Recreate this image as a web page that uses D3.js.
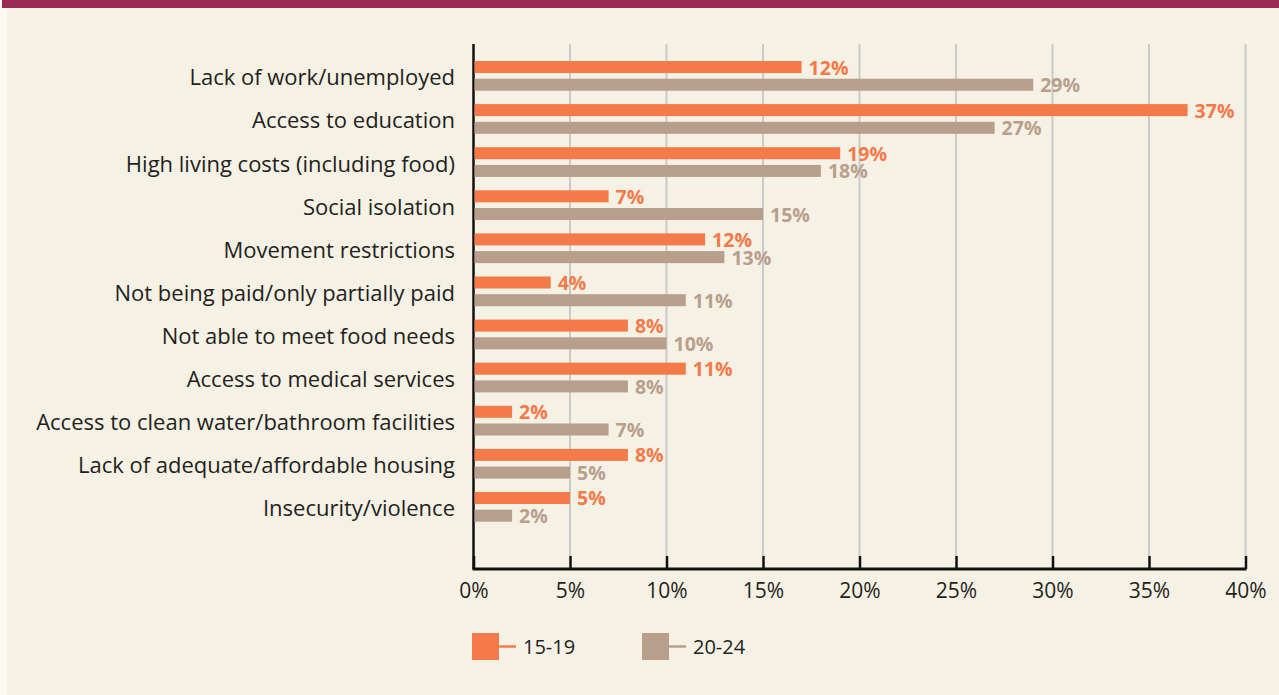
<!DOCTYPE html>
<html>
<head>
<meta charset="utf-8">
<script src="https://cdn.jsdelivr.net/npm/d3@7"></script>
<style>
  body { margin: 0; background: #fbf9f4; }
  svg { display: block; font-family: "Open Sans", "Noto Sans", sans-serif; }
</style>
</head>
<body>
<svg width="1279" height="695"></svg>
<script>
// categories, top to bottom
var categories = [
  "Lack of work/unemployed",
  "Access to education",
  "High living costs (including food)",
  "Social isolation",
  "Movement restrictions",
  "Not being paid/only partially paid",
  "Not able to meet food needs",
  "Access to medical services",
  "Access to clean water/bathroom facilities",
  "Lack of adequate/affordable housing",
  "Insecurity/violence"
];
var series = ["15-19", "20-24"];
// bar lengths as drawn in the source (first orange bar is drawn longer than its label)
var values1519 = [17, 37, 19, 7, 12, 4, 8, 11, 2, 8, 5];
var values2024 = [29, 27, 18, 15, 13, 11, 10, 8, 7, 5, 2];
// labels printed next to the bars
var labels1519 = ["12%", "37%", "19%", "7%", "12%", "4%", "8%", "11%", "2%", "8%", "5%"];
var labels2024 = ["29%", "27%", "18%", "15%", "13%", "11%", "10%", "8%", "7%", "5%", "2%"];
var xTicks = [0, 5, 10, 15, 20, 25, 30, 35, 40];

var colors = { "15-19": "#f47a4a", "20-24": "#b89f8c" };

var svg = d3.select("svg"),
    width = +svg.attr("width"),
    height = +svg.attr("height");

// panel + top band
svg.append("rect").attr("x", 7).attr("y", 0).attr("width", width - 7).attr("height", height).attr("fill", "#f6f1e5");
svg.append("rect").attr("x", 2).attr("y", 0).attr("width", width - 2).attr("height", 8).attr("fill", "#9b2a55");

var x = d3.scaleLinear().domain([0, 40]).range([473.5, 1245.5]);
var y = d3.scaleBand().domain(categories).range([61, 521.7]).paddingInner(0.31).paddingOuter(0);
var ySub = d3.scaleBand().domain(series).range([0, y.bandwidth()]).paddingInner(0.32);

var gridTop = 44, gridBottom = 556, axisY = 569;

// gridlines
svg.append("g")
  .selectAll("line")
  .data(xTicks.filter(function(d){ return d > 0 }))
  .enter()
  .append("line")
    .attr("x1", function(d){ return x(d) })
    .attr("x2", function(d){ return x(d) })
    .attr("y1", gridTop)
    .attr("y2", gridBottom)
    .attr("stroke", "#cacaca")
    .attr("stroke-width", 2)

// bottom axis with d3 ticks
var xAxis = svg.append("g")
  .attr("transform", "translate(0," + axisY + ")")
  .call(d3.axisBottom(x).tickValues(xTicks).tickSize(-13).tickPadding(0).tickFormat(function(d){ return d + "%" }));
xAxis.select(".domain").remove();
xAxis.selectAll(".tick line").attr("stroke", "#111").attr("stroke-width", 2.5);
xAxis.selectAll(".tick text")
  .attr("y", 29)
  .attr("dy", 0)
  .attr("fill", "#231f20")
  .style("font-size", "21px")
  .style("font-family", "'Open Sans', sans-serif");

svg.append("line")
  .attr("x1", x(0) - 1).attr("x2", x(40) + 1)
  .attr("y1", axisY).attr("y2", axisY)
  .attr("stroke", "#111").attr("stroke-width", 3);
svg.append("line")
  .attr("x1", x(0)).attr("x2", x(0))
  .attr("y1", gridTop).attr("y2", axisY)
  .attr("stroke", "#111").attr("stroke-width", 2.5);

// category labels
svg.append("g")
  .selectAll("text")
  .data(categories)
  .enter()
  .append("text")
    .attr("x", 455)
    .attr("y", function(d){ return y(d) + y.bandwidth() / 2 + 0.5 })
    .attr("text-anchor", "end")
    .attr("dominant-baseline", "central")
    .attr("fill", "#231f20")
    .style("font-size", "22px")
    .text(function(d){ return d })

// bars
var rows = categories.map(function(c, i){
  return [
    { cat: c, key: "15-19", v: values1519[i], label: labels1519[i] },
    { cat: c, key: "20-24", v: values2024[i], label: labels2024[i] }
  ];
});
var flat = [].concat.apply([], rows);

svg.append("g")
  .selectAll("rect")
  .data(flat)
  .enter()
  .append("rect")
    .attr("x", x(0) + 1)
    .attr("y", function(d){ return y(d.cat) + ySub(d.key) })
    .attr("width", function(d){ return x(d.v) - x(0) - 1 })
    .attr("height", ySub.bandwidth())
    .attr("fill", function(d){ return colors[d.key] })

svg.append("g")
  .selectAll("text")
  .data(flat)
  .enter()
  .append("text")
    .attr("x", function(d){ return x(d.v) + 7 })
    .attr("y", function(d){ return y(d.cat) + ySub(d.key) + ySub.bandwidth() / 2 })
    .attr("dominant-baseline", "central")
    .attr("fill", function(d){ return colors[d.key] })
    .style("font-size", "19.5px")
    .style("font-weight", "bold")
    .text(function(d){ return d.label })

// legend
var legendX = [472, 642];
var legend = svg.append("g")
  .selectAll("g")
  .data(series)
  .enter()
  .append("g")
    .attr("transform", function(d, i){ return "translate(" + legendX[i] + ",633)" });
legend.append("rect")
  .attr("width", 27).attr("height", 27)
  .attr("fill", function(d){ return colors[d] });
legend.append("line")
  .attr("x1", 27).attr("x2", 44)
  .attr("y1", 13.5).attr("y2", 13.5)
  .attr("stroke", function(d){ return colors[d] })
  .attr("stroke-width", 2.5);
legend.append("text")
  .attr("x", 51)
  .attr("y", 13.5)
  .attr("dominant-baseline", "central")
  .attr("fill", "#231f20")
  .style("font-size", "20px")
  .text(function(d){ return d });
</script>
</body>
</html>
